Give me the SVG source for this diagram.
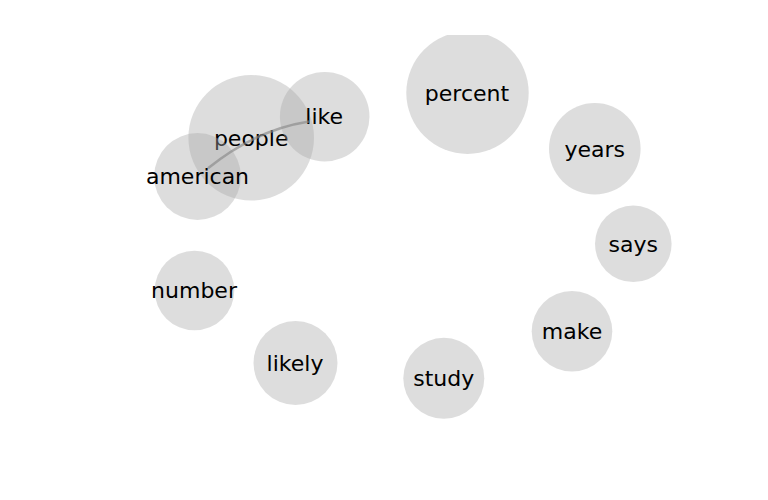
<svg xmlns="http://www.w3.org/2000/svg" width="768" height="500" viewBox="0 0 768 500">
<style>
.node circle{fill:#aaaaaa;fill-opacity:0.4;stroke:none}
.node text{font-family:"DejaVu Sans","Liberation Sans",sans-serif;font-size:22px;fill:#000;text-anchor:middle}
.edge{fill:none;stroke:#888888;stroke-opacity:0.65;stroke-width:2.5}
</style>
<defs>
<clipPath id="plot"><rect x="0" y="35" width="768" height="465"/></clipPath>
</defs>
<rect width="768" height="500" fill="#ffffff"/>
<g clip-path="url(#plot)">
<g id="node-people" class="node"><circle cx="251.2" cy="137.8" r="62.8"/><text x="251.2" y="145.5">people</text></g>
<g id="node-like" class="node"><circle cx="324.7" cy="116.7" r="44.8"/><text x="324.2" y="124.4">like</text></g>
<g id="node-american" class="node"><circle cx="197.5" cy="176.5" r="43.4"/><text x="197.5" y="184.2">american</text></g>
<g id="node-percent" class="node"><circle cx="467.5" cy="92.8" r="61.2"/><text x="467" y="100.5">percent</text></g>
<g id="node-years" class="node"><circle cx="594.8" cy="148.8" r="45.8"/><text x="594.8" y="156.5">years</text></g>
<g id="node-says" class="node"><circle cx="633.3" cy="243.8" r="38.3"/><text x="633.3" y="251.5">says</text></g>
<g id="node-make" class="node"><circle cx="572" cy="331.3" r="40.3"/><text x="572" y="339">make</text></g>
<g id="node-study" class="node"><circle cx="443.8" cy="378.3" r="40.5"/><text x="443.8" y="386">study</text></g>
<g id="node-likely" class="node"><circle cx="295.5" cy="363" r="42"/><text x="295" y="370.7">likely</text></g>
<g id="node-number" class="node"><circle cx="194.5" cy="290.5" r="39.8"/><text x="194" y="298.2">number</text></g>
<g id="edges">
<path class="edge" d="M208,168.3 Q255,130 309,121.5"/>
</g>
</g>
</svg>
